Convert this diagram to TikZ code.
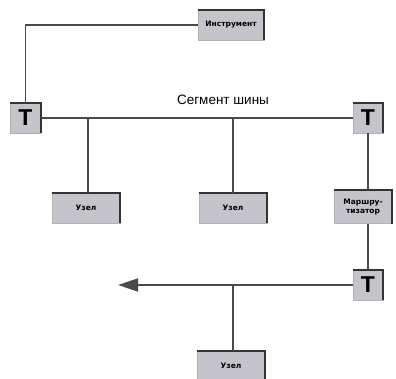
\documentclass[tikz,border=0pt]{standalone}
\usepackage{fontspec}
\setmainfont{Liberation Sans}
\newfontfamily\boxfont{DejaVu Sans}
\usetikzlibrary{arrows.meta}
\definecolor{boxfill}{HTML}{C4C4CA}
\definecolor{lin}{HTML}{4A4A4A}
\tikzset{
  box/.style={draw=gray!60, line width=0.6pt, fill=boxfill, inner sep=0pt, font=\boxfont\bfseries\fontsize{7.5}{9}\selectfont, align=center},
  tbox/.style={box, minimum width=30pt, minimum height=30pt, font=\bfseries\fontsize{23}{23}\selectfont},
  wire/.style={lin, line width=1.8pt},
  edge/.style={black!80, line width=1.8pt}
}
\newcommand{\myedge}[1]{\draw[edge] (#1.north west) -- (#1.north east) -- (#1.south east);}
\begin{document}
\begin{tikzpicture}[x=1pt,y=-1pt]
\useasboundingbox (0,0) rectangle (396,379);
% nodes
\node[box, minimum width=66pt, minimum height=30pt] (instr) at (231,25) {Инструмент};
\node[tbox] (t1) at (25.5,118) {T};
\node[tbox] (t2) at (368,118) {T};
\node[tbox] (t3) at (368,285) {T};
\node[box, minimum width=68pt, minimum height=30pt] (n1) at (86,208) {Узел};
\node[box, minimum width=68pt, minimum height=30pt] (n2) at (233,208) {Узел};
\node[box, minimum width=57pt, minimum height=33pt] (r) at (363,207) {Маршру-\\тизатор};
\node[box, minimum width=68pt, minimum height=30pt] (n3) at (231,366) {Узел};
\foreach \n in {instr,t1,t2,t3,n1,n2,r,n3} {\myedge{\n}}
% coordinates
\coordinate (c1) at (25.5,25);
\coordinate (b1) at (88,118);
\coordinate (b2) at (233,118);
\coordinate (b3) at (233,285);
\coordinate (tip) at (118,285);
% connectors
\draw[wire] (instr.west) -- (c1) -- (t1.north);
\draw[wire] (t1.east) -- (t2.west);
\draw[wire] (b1) -- (n1.north -| b1);
\draw[wire] (b2) -- (n2.north);
\draw[wire] (t2.south) -- (r.north -| t2.south);
\draw[wire] (r.south -| t3.north) -- (t3.north);
\draw[wire, -{Triangle[length=20pt,width=13pt]}] (t3.west) -- (tip);
\draw[wire] (b3) -- (n3.north -| b3);
\node[font=\fontsize{13.5}{14}\selectfont, anchor=base] (lab) at (223,105) {Сегмент шины};
\end{tikzpicture}
\end{document}
